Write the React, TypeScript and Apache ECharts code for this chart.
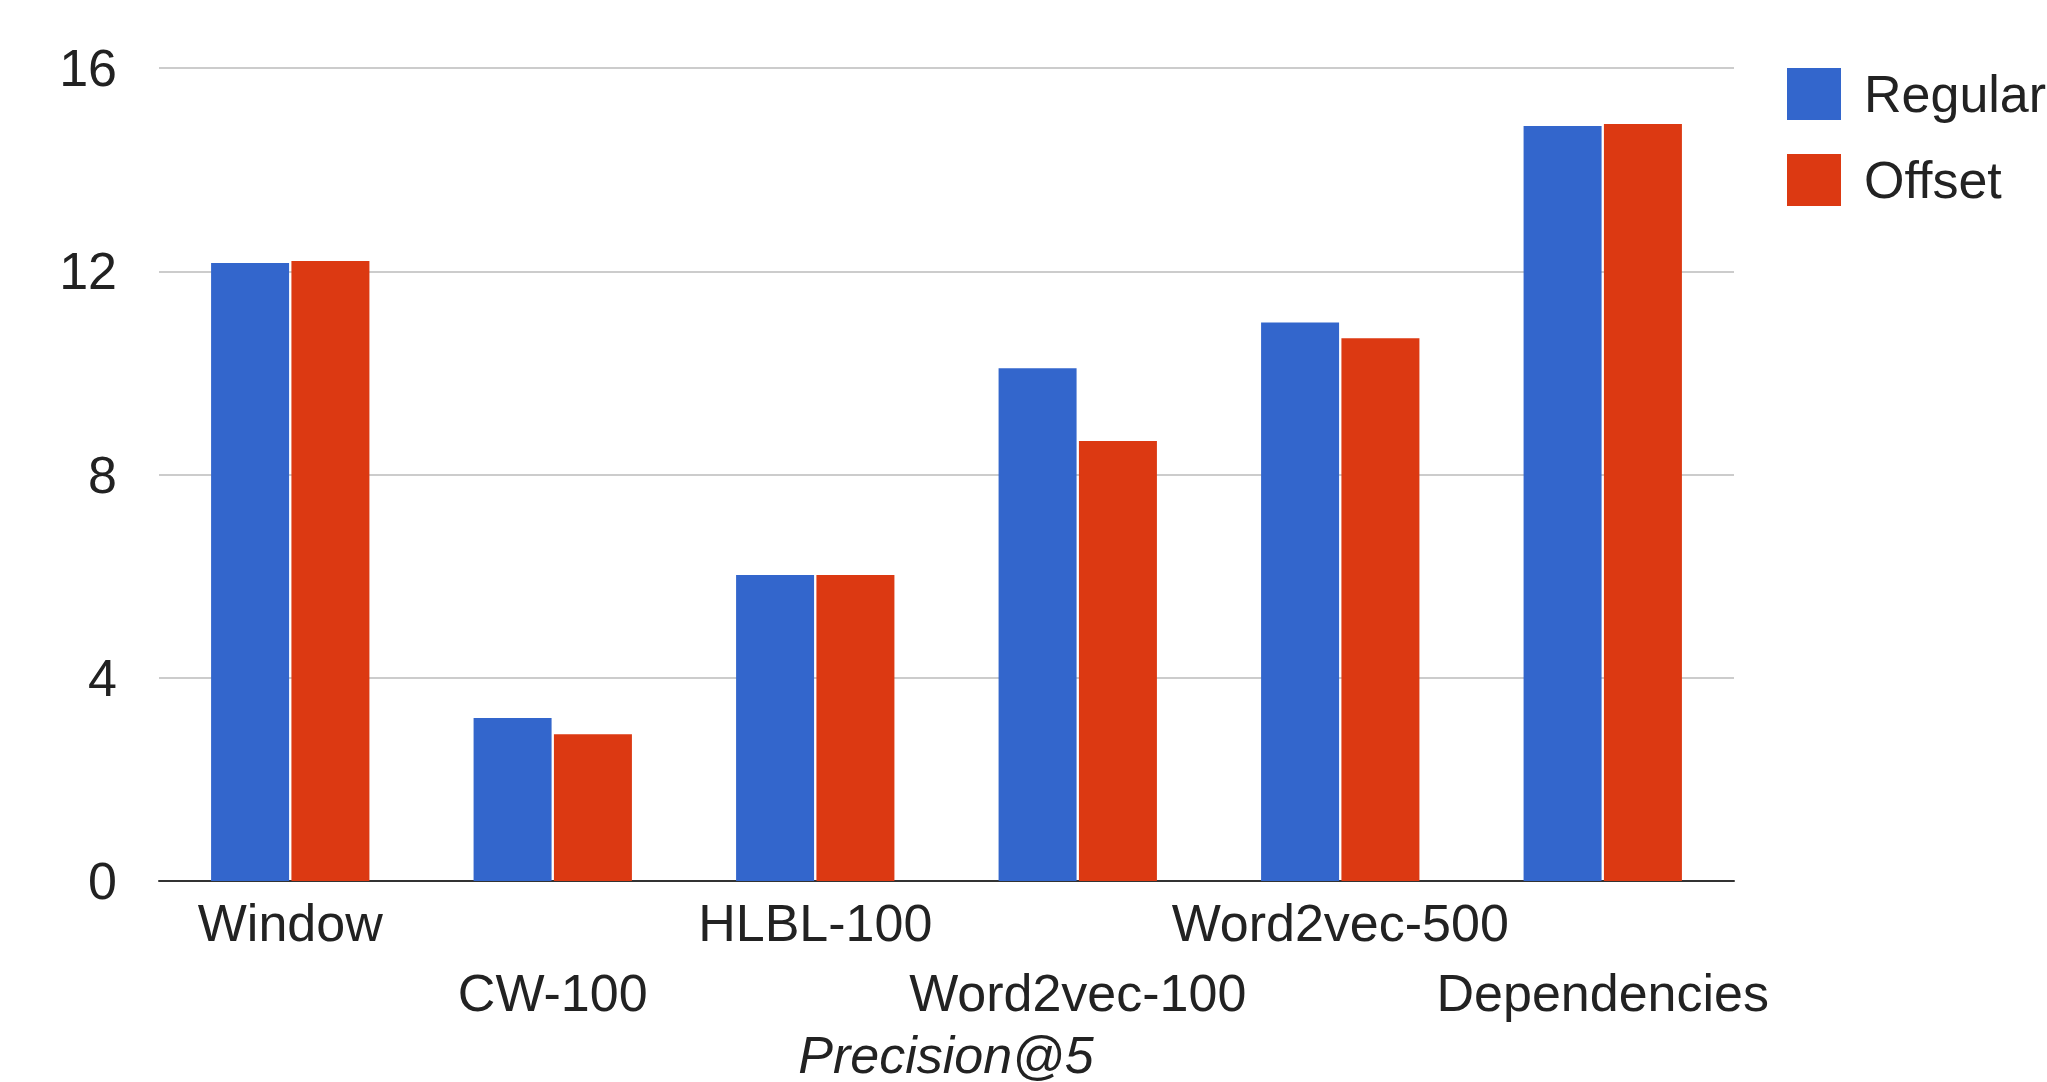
import React, { useEffect, useRef } from "react";
import * as echarts from "echarts";

const categories = ["Window", "CW-100", "HLBL-100", "Word2vec-100", "Word2vec-500", "Dependencies"];
const regularValues = [12.16, 3.21, 6.02, 10.09, 10.99, 14.86];
const offsetValues = [12.2, 2.89, 6.02, 8.66, 10.68, 14.9];
const seriesNames = ["Regular", "Offset"];
const axisTitle = "Precision@5";

const FONT = "'Liberation Sans', Arial, sans-serif";

export default function App() {
  const ref = useRef<HTMLDivElement>(null);
  useEffect(() => {
    if (!ref.current) return;
    const chart = echarts.init(ref.current, undefined, { renderer: "svg" });
    chart.setOption({
      animation: false,
      backgroundColor: "#ffffff",
      textStyle: { fontFamily: FONT },
      grid: { left: 159, right: 313, top: 68, bottom: 201, containLabel: false },
      legend: {
        data: seriesNames,
        orient: "vertical",
        left: 1782,
        top: 63,
        itemWidth: 54,
        itemHeight: 52,
        itemGap: 34,
        icon: "rect",
        textStyle: { fontSize: 52, color: "#222222", fontFamily: FONT, padding: [0, 0, 0, 18] },
      },
      graphic: [
        {
          type: "text",
          x: 946,
          y: 1055,
          style: {
            text: axisTitle,
            font: `italic 52px ${FONT}`,
            fill: "#222222",
            textAlign: "center",
            textVerticalAlign: "middle",
          },
        },
      ],
      xAxis: {
        type: "category",
        data: categories,
        axisLine: { show: true, lineStyle: { color: "#333333", width: 2 } },
        axisTick: { show: false },
        axisLabel: {
          interval: 0,
          fontSize: 52,
          color: "#222222",
          fontFamily: FONT,
          lineHeight: 70,
          margin: 7,
          formatter: (v: string, i: number) => (i % 2 === 1 ? "\n" + v : v),
        },
      },
      yAxis: {
        type: "value",
        min: 0,
        max: 16,
        interval: 4,
        axisLine: { show: false },
        axisTick: { show: false },
        axisLabel: { fontSize: 52, color: "#222222", fontFamily: FONT, margin: 42 },
        splitLine: { lineStyle: { color: "#cccccc", width: 2 } },
      },
      series: [
        {
          name: seriesNames[0],
          type: "bar",
          data: regularValues,
          barWidth: 78,
          barGap: "3%",
          itemStyle: { color: "#3366CC" },
        },
        {
          name: seriesNames[1],
          type: "bar",
          data: offsetValues,
          barWidth: 78,
          itemStyle: { color: "#DC3912" },
        },
      ],
    });
    return () => chart.dispose();
  }, []);
  return (
    <div
      ref={ref}
      style={{ position: "fixed", left: 0, top: 0, width: 2047, height: 1082 }}
    />
  );
}
